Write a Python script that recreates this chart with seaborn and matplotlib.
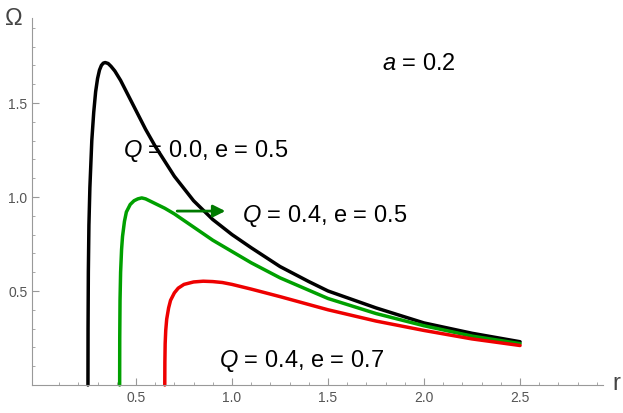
import matplotlib
matplotlib.use("Agg")
import matplotlib.pyplot as plt
import seaborn as sns
import pandas as pd

sns.set_style("white")
plt.rcParams["font.family"] = ["Liberation Sans", "DejaVu Sans"]
plt.rcParams["mathtext.fontset"] = "custom"
plt.rcParams["mathtext.it"] = "Liberation Sans:italic"

r_black = [0.25, 0.2505, 0.252, 0.255, 0.26, 0.27, 0.28, 0.29, 0.30, 0.31, 0.32, 0.33, 0.34, 0.355, 0.37, 0.39,
           0.42, 0.45, 0.5, 0.55, 0.6, 0.7, 0.8, 0.9, 1.0, 1.1, 1.25, 1.4, 1.5, 1.75, 2.0, 2.25, 2.5]
om_black = [0.0, 0.3, 0.6, 0.85, 1.05, 1.3, 1.45, 1.56, 1.63, 1.675, 1.70, 1.712, 1.715, 1.71, 1.695, 1.67,
            1.62, 1.56, 1.46, 1.36, 1.27, 1.11, 0.98, 0.88, 0.80, 0.73, 0.63, 0.55, 0.50, 0.41, 0.33, 0.275, 0.23]
r_green = [0.415, 0.4155, 0.417, 0.42, 0.425, 0.43, 0.44, 0.45, 0.47, 0.49, 0.51, 0.53, 0.55, 0.57, 0.6, 0.65,
           0.7, 0.8, 0.9, 1.0, 1.1, 1.25, 1.5, 1.75, 2.0, 2.25, 2.5]
om_green = [0.0, 0.25, 0.45, 0.6, 0.72, 0.79, 0.87, 0.92, 0.96, 0.98, 0.99, 0.995, 0.99, 0.98, 0.965, 0.94,
            0.91, 0.84, 0.77, 0.71, 0.65, 0.57, 0.46, 0.38, 0.315, 0.26, 0.22]
r_red = [0.65, 0.6505, 0.652, 0.655, 0.66, 0.67, 0.68, 0.70, 0.72, 0.75, 0.8, 0.85, 0.9, 0.95, 1.0, 1.1,
         1.25, 1.5, 1.75, 2.0, 2.25, 2.5]
om_red = [0.0, 0.12, 0.22, 0.29, 0.35, 0.41, 0.45, 0.49, 0.515, 0.535, 0.548, 0.552, 0.55, 0.545, 0.535, 0.51,
          0.47, 0.40, 0.34, 0.29, 0.245, 0.21]

curves = [
    (r_black, om_black, "black"),
    (r_green, om_green, "#00a000"),
    (r_red, om_red, "#ee0000"),
]

fig = plt.figure(figsize=(6.23, 4.14), dpi=100)
ax = fig.add_axes([0, 0, 1, 1])
for r, om, c in curves:
    df = pd.DataFrame({"r": r, "om": om})
    sns.lineplot(data=df, x="r", y="om", color=c, lw=2.5, sort=False, ax=ax)

ax.set_xlim(-0.208, 3.036)
ax.set_ylim(-0.149, 2.053)
for s in ["top", "right"]:
    ax.spines[s].set_visible(False)
ax.spines["left"].set_position(("data", -0.04))
ax.spines["bottom"].set_position(("data", 0))
ax.spines["left"].set_bounds(0, 1.95)
ax.spines["bottom"].set_bounds(-0.04, 2.93)
for s in ["left", "bottom"]:
    ax.spines[s].set_color("#999999")
    ax.spines[s].set_linewidth(0.8)
ax.set_xticks([0.5, 1.0, 1.5, 2.0, 2.5])
ax.set_yticks([0.5, 1.0, 1.5])
ax.set_xticks([x / 10 for x in range(1, 30)], minor=True)
ax.set_yticks([y / 10 for y in range(1, 20)], minor=True)
ax.tick_params(which="major", direction="in", length=5, color="#999999", labelsize=10, labelcolor="#555555", left=True, bottom=True)
ax.tick_params(which="minor", direction="in", length=2.5, color="#999999", left=True, bottom=True)
ax.set_xlabel("")
ax.set_ylabel("")

ax.annotate("", xy=(0.98, 0.925), xytext=(0.7, 0.925),
            arrowprops=dict(arrowstyle="-|>", color="#007a00", lw=2, mutation_scale=18))
fs = 17
ax.text(0.43, 1.22, "$Q$ = 0.0, e = 0.5", fontsize=fs, color="black")
ax.text(1.05, 0.87, "$Q$ = 0.4, e = 0.5", fontsize=fs, color="black")
ax.text(0.93, 0.1, "$Q$ = 0.4, e = 0.7", fontsize=fs, color="black")
ax.text(1.78, 1.68, "$a$ = 0.2", fontsize=fs, color="black")
ax.text(-0.18, 1.92, "Ω", fontsize=17, color="#444444")
ax.text(2.98, -0.02, "r", fontsize=17, color="#444444")

fig.savefig("out.png", dpi=100)
